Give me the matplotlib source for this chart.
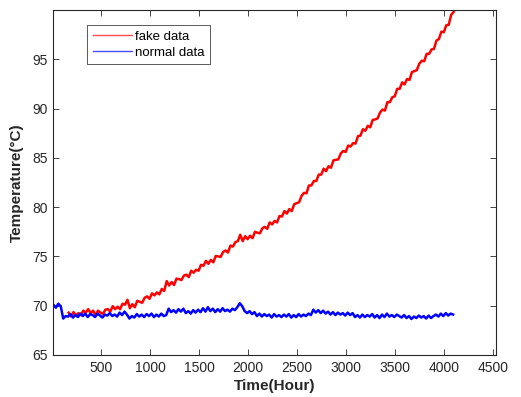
import numpy as np
import matplotlib
matplotlib.use("Agg")
import matplotlib.pyplot as plt

plt.rcParams['font.family'] = ['Liberation Sans', 'DejaVu Sans']

# ---- data ----
fake_start, fake_step = 170, 25
fake_values = [
    69.30, 68.90, 69.35, 69.00, 69.25, 69.05, 69.50, 69.30, 69.65, 69.25, 69.50, 69.05, 69.50, 69.30, 69.15, 69.60,
    69.65, 69.40, 69.95, 69.65, 69.90, 69.65, 70.20, 70.10, 70.60, 69.75, 70.15, 69.85, 70.50, 70.40, 70.30, 70.80,
    70.95, 70.70, 71.25, 71.05, 71.35, 71.15, 71.70, 71.50, 72.50, 72.05, 72.40, 72.10, 72.75, 72.70, 72.60, 73.05,
    73.15, 72.90, 73.55, 73.35, 73.65, 73.55, 74.15, 74.05, 74.55, 74.25, 74.65, 74.40, 75.05, 75.00, 74.95, 75.45,
    75.60, 75.40, 76.10, 76.00, 76.45, 76.55, 77.20, 76.55, 77.05, 76.75, 77.10, 76.85, 77.50, 77.40, 77.35, 77.85,
    78.00, 77.80, 78.45, 78.25, 78.60, 78.45, 79.10, 79.05, 79.60, 79.35, 79.80, 79.60, 80.30, 80.40, 80.50, 81.15,
    81.45, 81.40, 82.20, 82.20, 82.65, 82.65, 83.30, 83.30, 83.90, 83.65, 84.15, 84.00, 84.75, 84.80, 84.85, 85.45,
    85.70, 85.60, 86.25, 86.15, 86.50, 86.45, 87.20, 87.25, 87.90, 87.75, 88.25, 88.10, 88.85, 88.90, 89.00, 89.60,
    89.90, 89.80, 90.65, 90.65, 91.15, 91.25, 92.00, 92.00, 92.65, 92.45, 93.00, 92.90, 93.70, 93.80, 93.90, 94.55,
    94.85, 94.80, 95.55, 95.55, 96.00, 96.05, 96.90, 97.05, 97.80, 97.75, 98.45, 98.50, 99.50, 99.80,
]

normal_start, normal_step = 15, 25
normal_values = [
    70.10, 69.80, 70.20, 69.95, 68.70, 68.95, 68.90, 69.15, 68.80, 69.05, 68.85, 69.20, 68.95, 69.20, 68.85, 69.15,
    69.05, 68.85, 69.20, 69.00, 68.80, 69.10, 69.00, 69.25, 68.95, 69.10, 68.90, 69.30, 69.05, 69.40, 69.10, 68.70,
    68.95, 68.80, 69.15, 68.90, 69.10, 68.85, 69.15, 68.95, 69.20, 68.85, 69.10, 68.90, 69.20, 68.95, 69.05, 69.70,
    69.35, 69.55, 69.30, 69.65, 69.40, 69.70, 69.25, 69.45, 69.20, 69.55, 69.30, 69.60, 69.35, 69.75, 69.40, 69.85,
    69.45, 69.70, 69.35, 69.65, 69.40, 69.75, 69.45, 69.60, 69.40, 69.70, 69.55, 69.85, 70.25, 69.95, 69.45, 69.25,
    69.45, 69.15, 69.35, 68.95, 69.20, 68.90, 69.15, 68.95, 69.10, 68.80, 69.15, 68.90, 69.05, 68.85, 69.10, 68.90,
    69.15, 68.80, 69.05, 68.85, 69.15, 68.90, 69.10, 68.95, 69.20, 69.05, 69.60, 69.30, 69.55, 69.25, 69.50, 69.20,
    69.40, 69.10, 69.35, 69.05, 69.30, 69.10, 69.25, 69.00, 69.30, 69.05, 69.25, 68.85, 69.05, 68.80, 69.10, 68.85,
    69.05, 68.90, 69.15, 68.80, 69.05, 68.75, 69.10, 68.85, 69.20, 68.90, 69.05, 68.85, 69.10, 68.95, 68.80, 69.05,
    68.75, 68.95, 68.65, 68.90, 68.75, 69.00, 68.80, 68.95, 68.70, 69.00, 68.75, 68.95, 69.10, 68.90, 69.20, 68.95,
    69.25, 69.00, 69.20, 69.10,
]

series_labels = ['fake data', 'normal data']
x_ticks = [500, 1000, 1500, 2000, 2500, 3000, 3500, 4000, 4500]
y_ticks = [65, 70, 75, 80, 85, 90, 95]
x_label = 'Time(Hour)'
y_label = 'Temperature(°C)'

fake_hours = fake_start + fake_step * np.arange(len(fake_values))
normal_hours = normal_start + normal_step * np.arange(len(normal_values))

# ---- figure ----
W, H = 521, 397
fig = plt.figure(figsize=(W / 100, H / 100), dpi=100)
ax = fig.add_axes([53.3 / W, 1 - 355 / H, (495.7 - 53.3) / W, (355 - 10) / H])

axcol = '#262626'
ax.plot(fake_hours, fake_values, color='#ff0000', lw=1.8, label=series_labels[0])
ax.plot(normal_hours, normal_values, color='#0000ff', lw=1.8, label=series_labels[1])

ax.set_xlim(14, 4524)
ax.set_ylim(65, 100)
ax.set_xticks(x_ticks)
ax.set_yticks(y_ticks)
ax.tick_params(direction='in', top=True, right=True, length=4, width=0.6,
               colors=axcol, labelsize=10, labelcolor=axcol, pad=4)
for s in ax.spines.values():
    s.set_color(axcol)
    s.set_linewidth(0.8)

ax.set_xlabel(x_label, fontsize=11, fontweight='bold', color=axcol, labelpad=3)
ax.set_ylabel(y_label, fontsize=11, fontweight='bold', color=axcol, labelpad=6)

leg = ax.legend(loc='upper left', bbox_to_anchor=((87.3 - 53.3) / 442.4, 1 - (25 - 10) / 345),
                borderaxespad=0, fontsize=9.5, frameon=True, fancybox=False, shadow=False,
                handlelength=3.0, handletextpad=0.25, labelspacing=0.3, borderpad=0.4,
                framealpha=1)
leg.get_frame().set_edgecolor('#404040')
leg.get_frame().set_linewidth(0.6)
for line in leg.get_lines():
    line.set_linewidth(1.0)
    line.set_alpha(0.7)

fig.savefig('out.png', dpi=100)
